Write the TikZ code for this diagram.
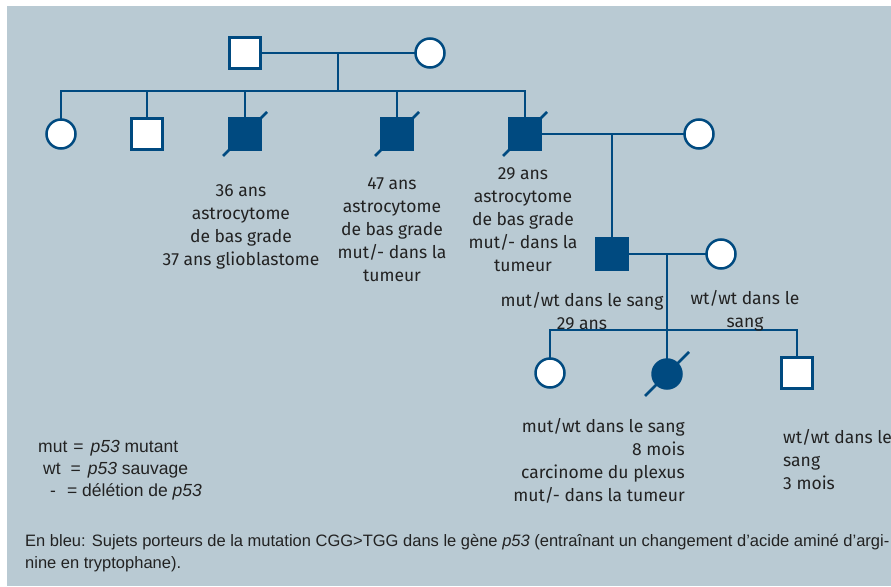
\documentclass[tikz,border=0pt]{standalone}
\usepackage{fontspec}
\setmainfont{Liberation Sans}
\newfontfamily\pedfont{Fira Sans}
\usetikzlibrary{calc}

\definecolor{pedblue}{RGB}{0,74,128}
\definecolor{panel}{RGB}{185,202,211}
\definecolor{ink}{RGB}{34,34,34}

\tikzset{
  kin/.style={draw=pedblue, line width=2.5pt, line cap=rect},
  male/.style={rectangle, draw=pedblue, fill=white, line width=2.5pt,
    minimum size=31pt, inner sep=0pt},
  female/.style={male, circle, minimum size=29pt},
  affected/.style={fill=pedblue},
  info/.style={font=\pedfont\fontsize{17.5}{23}\selectfont, text=ink,
    align=center, inner sep=0pt},
  legend/.style={font=\fontsize{16.5}{22}\selectfont, text=ink, inner sep=0pt}
}

% slash through a deceased individual
\newcommand{\deceased}[1]{\draw[kin, line cap=butt] ($(#1)+(-22,22)$) -- ($(#1)+(22,-22)$);}

\begin{document}
\begin{tikzpicture}[x=1pt, y=-1pt]
  \useasboundingbox (0,0) rectangle (891,586);
  \fill[panel] (7,6) rectangle (891,586);

  % grandparents
  \coordinate (m1) at (338,53);
  \coordinate (r1) at (338,91);
  \draw[kin] (245,53) -- (430,53);
  \draw[kin] (m1) -- (r1);
  \node[male] (gf) at (245,53) {};
  \node[female] (gm) at (430,53) {};

  % their children
  \draw[kin] (61,134) |- (r1) -| (525,134);
  \draw[kin] (147,91) -- (147,134);
  \draw[kin] (245,91) -- (245,134);
  \draw[kin] (397,91) -- (397,134);
  \node[female] (d1) at (61,134) {};
  \node[male] (d2) at (147,134) {};
  \node[male, affected] (d3) at (245,134) {};
  \node[male, affected] (d4) at (397,134) {};
  \node[male, affected] (d5) at (525,134) {};
  \deceased{d3}
  \deceased{d4}
  \deceased{d5}

  % second couple
  \coordinate (m2) at (612,134);
  \node[female] (w5) at (699,134) {};
  \node[male, affected] (s6) at (612,254) {};
  \draw[kin] (d5) -- (w5);
  \draw[kin] (m2) -- (s6);

  % third couple and grandchildren
  \coordinate (m3) at (667,254);
  \coordinate (r3) at (667,330);
  \node[female] (w6) at (721,254) {};
  \draw[kin] (s6) -- (w6);
  \draw[kin] (550,373) |- (r3) -| (797,373);
  \draw[kin] (m3) -- (667,373);
  \node[female] (g1) at (550,373) {};
  \node[female, affected] (g2) at (667,374) {};
  \node[male] (g3) at (797,373) {};
  \deceased{g2}

  % notes under individuals
  \node[info, anchor=north] (t3) at (241,184) {36 ans\\astrocytome\\de bas grade\\37 ans glioblastome};
  \node[info, anchor=north] (t4) at (392,177) {47 ans\\astrocytome\\de bas grade\\mut/- dans la\\tumeur};
  \node[info, anchor=north] (t5) at (523,167) {29 ans\\astrocytome\\de bas grade\\mut/- dans la\\tumeur};
  \node[info, anchor=north] (t6) at (582,292) {mut/wt dans le sang\\29 ans};
  \node[info, anchor=north] (t7) at (745,290) {wt/wt dans le\\sang};
  \node[info, anchor=north east, align=right] (t8) at (685,418) {mut/wt dans le sang\\8 mois\\carcinome du plexus\\mut/- dans la tumeur};
  \node[info, anchor=north west, align=left] (t9) at (783,429) {wt/wt dans le\\sang\\3 mois};

  % key
  \begin{scope}[legend/.append style={font=\fontsize{17.5}{22}\selectfont}]
    \node[legend, anchor=base west] (k1) at (38,452) {mut\hspace{6pt}=\hspace{7pt}\textit{p53} mutant};
    \node[legend, anchor=base west] (k2) at (43,474) {wt\hspace{10pt}=\hspace{7pt}\textit{p53} sauvage};
    \node[legend, anchor=base west] (k3) at (50,496) {-\hspace{11pt}=\hspace{5pt}délétion de \textit{p53}};
  \end{scope}

  \node[legend, anchor=base west, align=left] (note) at (25,568)
    {En bleu: Sujets porteurs de la mutation CGG>TGG dans le gène \textit{p53} (entraînant un changement d’acide aminé d’argi-\\nine en tryptophane).};
\end{tikzpicture}
\end{document}
